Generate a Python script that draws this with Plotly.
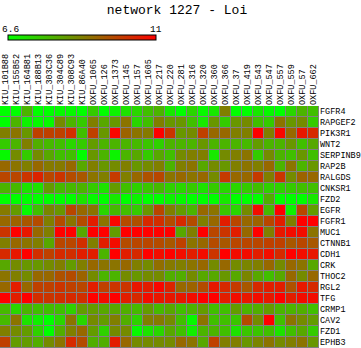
import plotly.graph_objects as go

title_text = "network 1227 - Loi"

samples = [
    "KIU_101B88", "KIU_155B52", "KIU_164B81", "KIU_188B13", "KIU_303C36",
    "KIU_304C89", "KIU_308C93", "KIU_86A40", "OXFU_1065", "OXFU_126",
    "OXFU_1373", "OXFU_145", "OXFU_157", "OXFU_1605", "OXFU_217",
    "OXFU_220", "OXFU_281", "OXFU_316", "OXFU_320", "OXFU_360",
    "OXFU_366", "OXFU_37", "OXFU_419", "OXFU_543", "OXFU_547",
    "OXFU_557", "OXFU_559", "OXFU_57", "OXFU_662",
]

genes = [
    "FGFR4", "RAPGEF2", "PIK3R1", "WNT2", "SERPINB9", "RAP2B", "RALGDS",
    "CNKSR1", "FZD2", "EGFR", "FGFR1", "MUC1", "CTNNB1", "CDH1", "CRK",
    "THOC2", "RGL2", "TFG", "CRMP1", "CAV2", "FZD1", "EPHB3",
]

# expression values, one row per gene, one column per sample
FGFR4 = [6.6, 6.6, 7.9, 6.6, 6.6, 6.7, 6.7, 6.6, 7.5, 6.6, 6.8, 7.1, 7.3, 7.7, 7.9, 7.0, 6.6, 7.3, 6.7, 7.0, 8.8, 6.6, 6.6, 7.0, 6.7, 6.6, 7.3, 7.9, 7.7]
RAPGEF2 = [6.6, 7.9, 6.8, 6.7, 6.7, 8.6, 7.9, 7.5, 8.8, 8.1, 8.4, 9.0, 7.3, 7.7, 8.8, 8.4, 8.4, 7.7, 7.0, 8.4, 7.5, 8.4, 8.6, 7.7, 7.5, 9.0, 8.4, 8.6, 7.5]
PIK3R1 = [8.8, 9.0, 8.4, 9.9, 9.9, 9.9, 10.2, 7.7, 9.9, 8.4, 10.9, 9.3, 9.0, 8.9, 11.0, 10.1, 8.4, 8.6, 9.9, 9.2, 9.2, 8.8, 8.8, 11.0, 8.8, 10.9, 9.2, 10.6, 10.3]
WNT2 = [7.5, 7.9, 8.8, 8.0, 7.8, 7.7, 7.3, 7.5, 8.3, 7.9, 7.9, 7.9, 7.8, 7.6, 7.4, 7.9, 7.9, 7.9, 8.4, 7.9, 7.9, 7.9, 7.8, 8.3, 7.9, 7.9, 8.4, 7.7, 8.1]
SERPINB9 = [6.7, 8.6, 7.5, 8.6, 8.1, 7.7, 7.7, 6.6, 8.4, 7.9, 6.8, 7.9, 8.1, 7.5, 8.1, 7.7, 8.6, 8.8, 8.8, 7.0, 8.6, 8.8, 9.0, 7.5, 8.6, 7.9, 7.7, 8.4, 7.7]
RAP2B = [9.2, 9.0, 8.8, 9.2, 8.9, 8.9, 9.2, 8.1, 8.8, 8.4, 8.6, 8.8, 8.4, 8.6, 8.8, 7.9, 8.8, 9.0, 8.1, 8.6, 8.4, 8.8, 9.0, 8.8, 9.2, 7.9, 9.0, 7.9, 8.4]
RALGDS = [9.8, 9.8, 10.1, 10.4, 9.8, 10.1, 9.7, 9.5, 9.0, 8.8, 10.0, 8.8, 9.2, 9.6, 9.8, 9.0, 9.2, 9.0, 9.2, 8.6, 10.0, 9.2, 9.2, 10.0, 8.8, 10.1, 8.6, 9.3, 9.2]
CNKSR1 = [7.9, 7.8, 7.1, 7.1, 8.3, 7.8, 7.8, 7.9, 7.5, 7.1, 8.3, 7.7, 7.4, 7.6, 7.8, 7.4, 7.3, 7.5, 7.1, 7.5, 7.3, 7.3, 7.5, 7.7, 7.4, 7.4, 7.5, 7.7, 7.7]
FZD2 = [6.6, 6.6, 6.6, 6.6, 6.6, 6.6, 6.6, 7.1, 6.7, 6.6, 7.0, 6.6, 6.8, 6.6, 6.6, 6.8, 6.7, 6.6, 6.6, 6.6, 7.0, 6.6, 6.6, 6.6, 8.0, 6.6, 6.6, 6.6, 7.0]
EGFR = [8.9, 8.3, 6.7, 7.7, 8.7, 8.4, 9.8, 9.2, 9.0, 7.3, 7.8, 7.7, 7.5, 8.4, 9.8, 8.8, 8.3, 7.9, 9.2, 9.0, 7.6, 7.3, 8.6, 10.8, 7.8, 11.0, 6.8, 9.8, 8.3]
FGFR1 = [9.2, 9.3, 9.5, 9.7, 8.8, 9.7, 9.0, 9.7, 10.5, 9.0, 10.9, 9.7, 9.6, 10.3, 10.2, 9.7, 10.3, 9.7, 8.8, 9.2, 10.5, 9.8, 9.2, 9.3, 9.8, 10.5, 8.8, 11.0, 11.0]
MUC1 = [10.1, 11.0, 10.6, 9.2, 8.8, 11.0, 11.0, 8.1, 11.0, 11.0, 8.3, 11.0, 11.0, 11.0, 11.0, 11.0, 8.1, 8.8, 11.0, 9.8, 10.1, 10.5, 9.2, 11.0, 8.8, 10.6, 10.8, 10.8, 9.0]
CTNNB1 = [8.8, 9.2, 9.0, 8.8, 8.1, 9.8, 9.8, 10.2, 8.8, 10.5, 10.8, 9.7, 9.8, 9.8, 9.7, 9.5, 9.9, 9.0, 9.2, 9.7, 9.5, 9.8, 9.8, 9.8, 9.9, 9.9, 9.5, 9.8, 9.5]
CDH1 = [10.3, 10.6, 11.0, 10.2, 9.9, 10.3, 10.2, 10.5, 10.5, 7.9, 11.0, 10.5, 10.3, 11.0, 10.8, 11.0, 10.8, 10.5, 10.8, 10.1, 11.0, 10.8, 10.8, 10.5, 10.8, 10.3, 11.0, 10.8, 10.6]
CRK = [8.1, 8.6, 8.4, 8.4, 8.6, 8.8, 8.3, 8.8, 9.2, 9.0, 9.0, 9.2, 8.8, 8.6, 9.1, 8.9, 8.8, 9.0, 9.2, 8.6, 9.2, 8.6, 8.7, 8.8, 9.2, 8.6, 9.2, 9.0, 8.1]
THOC2 = [9.0, 8.8, 8.6, 9.2, 9.2, 9.6, 9.7, 9.3, 8.6, 7.9, 7.9, 8.6, 8.4, 8.6, 8.6, 8.0, 8.0, 8.6, 8.1, 8.1, 8.4, 8.1, 8.7, 8.1, 7.7, 8.1, 9.2, 8.6, 9.2]
RGL2 = [9.2, 10.5, 9.2, 9.9, 9.9, 10.1, 9.9, 9.8, 10.5, 9.9, 10.1, 10.1, 10.6, 10.5, 10.9, 10.4, 9.2, 9.3, 9.7, 10.6, 10.3, 10.0, 9.5, 10.3, 10.5, 10.5, 9.6, 10.6, 10.3]
TFG = [11.0, 10.5, 11.0, 10.2, 10.1, 10.2, 10.3, 10.2, 11.0, 10.8, 11.0, 10.5, 10.3, 10.8, 10.6, 10.6, 10.6, 10.8, 11.0, 11.0, 10.5, 10.8, 10.6, 10.8, 10.6, 11.0, 10.5, 10.8, 10.8]
CRMP1 = [7.8, 7.3, 7.9, 7.7, 7.7, 7.7, 7.4, 8.3, 8.3, 8.1, 8.1, 8.0, 7.8, 8.3, 7.8, 8.1, 7.7, 7.9, 8.3, 7.7, 7.7, 8.3, 7.9, 8.0, 8.3, 7.9, 7.9, 8.0, 7.7]
CAV2 = [7.8, 9.0, 7.1, 6.9, 6.6, 7.3, 9.0, 7.3, 8.6, 8.3, 8.8, 8.0, 7.4, 8.8, 8.9, 8.6, 7.7, 6.7, 9.0, 7.7, 7.7, 7.6, 9.7, 8.6, 11.0, 7.7, 9.0, 8.6, 8.3]
FZD1 = [8.8, 8.6, 8.3, 7.4, 6.6, 8.0, 8.8, 9.2, 8.3, 7.4, 8.6, 8.6, 6.7, 7.1, 7.3, 8.1, 7.7, 6.9, 7.9, 7.9, 7.7, 7.1, 7.6, 7.6, 7.7, 7.1, 7.7, 8.1, 7.5]
EPHB3 = [9.9, 8.3, 8.3, 8.0, 8.6, 9.0, 10.3, 9.7, 8.0, 8.0, 10.5, 9.2, 8.6, 8.6, 8.6, 8.6, 9.2, 9.0, 8.1, 9.9, 8.8, 8.8, 8.4, 8.7, 9.0, 8.6, 8.8, 9.0, 8.4]

z_min = 6.6
z_max = 11
scale_labels = ["6.6", "11"]

matrix = [FGFR4, RAPGEF2, PIK3R1, WNT2, SERPINB9, RAP2B, RALGDS, CNKSR1,
          FZD2, EGFR, FGFR1, MUC1, CTNNB1, CDH1, CRK, THOC2, RGL2, TFG,
          CRMP1, CAV2, FZD1, EPHB3]

W, H = 361, 348
cell = 11
plot_w = cell * len(samples)
plot_h = cell * len(genes)
top = H - plot_h
mono = "Liberation Mono"

fig = go.Figure(go.Heatmap(
    z=matrix,
    x=samples,
    y=genes,
    zmin=z_min,
    zmax=z_max,
    colorscale=[[0, "rgb(0,255,0)"], [1, "rgb(255,0,0)"]],
    xgap=1,
    ygap=1,
    hoverinfo="skip",
    colorbar=dict(
        orientation="h",
        lenmode="pixels", len=148,
        thickness=5,
        x=8 / plot_w, xanchor="left",
        y=(H - 35) / plot_h, yanchor="top",
        xpad=0, ypad=0,
        outlinecolor="black", outlinewidth=1,
        showticklabels=False,
        ticks="",
    ),
))

bar_y = (H - 30) / plot_h
fig.add_annotation(x=0, y=bar_y, xref="paper", yref="paper", text=scale_labels[0],
                   showarrow=False, xanchor="left", yanchor="middle",
                   font=dict(family=mono, size=9.5, color="black"))
fig.add_annotation(x=164 / plot_w, y=bar_y, xref="paper", yref="paper", text=scale_labels[1],
                   showarrow=False, xanchor="right", yanchor="middle",
                   font=dict(family=mono, size=9.5, color="black"))

fig.update_layout(
    width=W, height=H,
    margin=dict(l=0, r=W - plot_w, t=top, b=0, pad=0),
    paper_bgcolor="white",
    plot_bgcolor="#808080",
    font=dict(family=mono, color="black"),
    title=dict(text=title_text, x=177 / W, xanchor="center", xref="container",
               y=1 - 9 / H, yanchor="middle", yref="container",
               font=dict(family=mono, size=13, color="black")),
    xaxis=dict(side="top", tickangle=-90, showgrid=False, zeroline=False,
               ticks="", range=[-0.5, len(samples) - 0.5],
               tickfont=dict(family=mono, size=8.5, color="black")),
    yaxis=dict(side="right", showgrid=False, zeroline=False, ticks="",
               range=[len(genes) - 0.5, -0.5],
               tickfont=dict(family=mono, size=8.5, color="black")),
)

fig.write_html("out.html")
